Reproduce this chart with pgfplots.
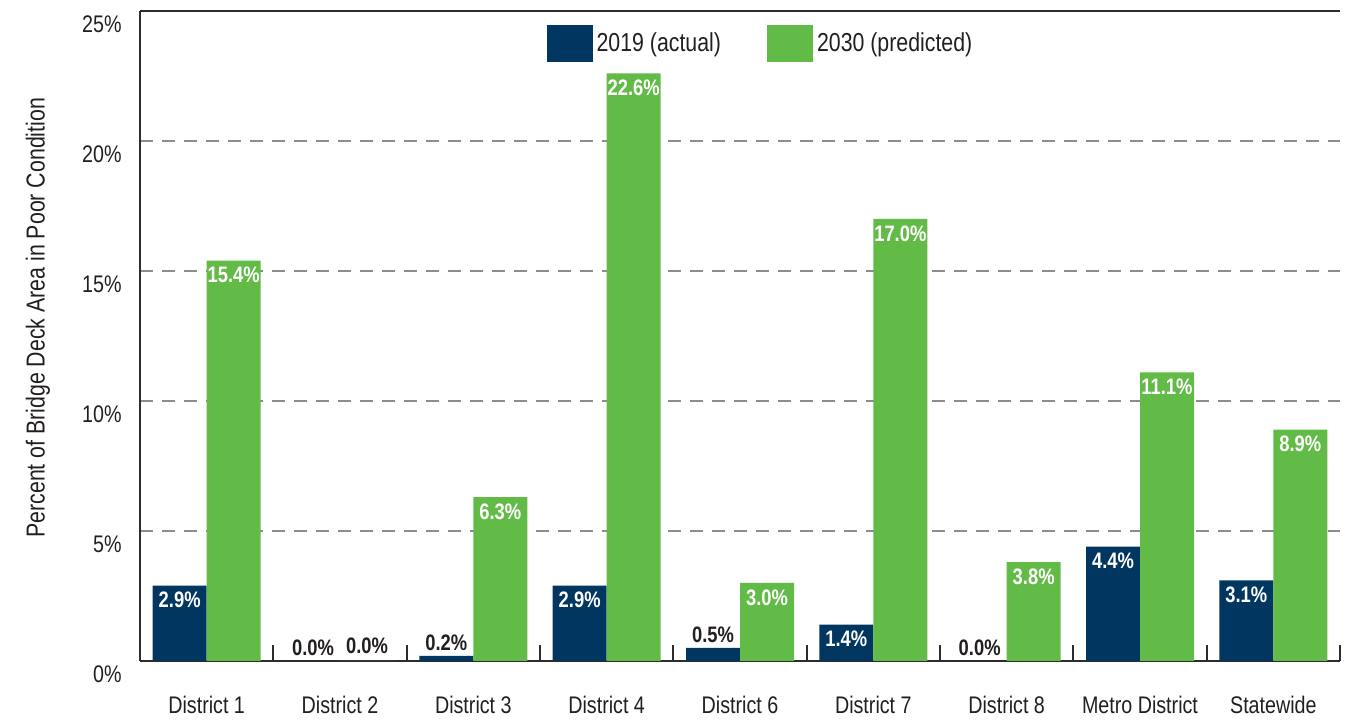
\documentclass[border=0pt]{standalone}
\usepackage{fontspec}
\setmainfont{Liberation Sans}[FakeStretch=0.82]
\usepackage{pgfplots}
\pgfplotsset{compat=1.18}
\definecolor{navyb}{RGB}{0,54,96}
\definecolor{greenb}{RGB}{98,187,70}
\definecolor{gridg}{RGB}{140,140,140}
\definecolor{axisg}{RGB}{45,45,45}
\definecolor{textc}{RGB}{35,31,32}
\begin{document}
\begin{tikzpicture}[text=textc]
\begin{axis}[
  width=600pt, height=325pt, scale only axis,
  xmin=-0.5, xmax=8.5, ymin=0, ymax=25,
  ybar, bar width=0.405,
  axis x line*=bottom, axis y line*=left,
  axis line style={draw=axisg, line width=1pt, -},
  xtick={0,1,2,3,4,5,6,7,8},
  xticklabels={District 1, District 2, District 3, District 4, District 6, District 7, District 8, Metro District, Statewide},
  minor xtick={0.5,1.5,2.5,3.5,4.5,5.5,6.5,7.5,8.5},
  major tick length=0pt, minor tick length=8pt,
  xtick align=inside,
  minor x tick style={draw=axisg, line width=1pt},
  ytick={0,5,10,15,20,25},
  yticklabels={0\%,5\%,10\%,15\%,20\%,25\%},
  ymajorgrids,
  grid style={draw=gridg, line width=1pt, dash pattern=on 6.5pt off 4.5pt},
  xticklabel style={font=\fontsize{12pt}{14pt}\selectfont, yshift=-14pt, text=textc},
  yticklabel style={font=\fontsize{12pt}{14pt}\selectfont, xshift=-5.7pt, yshift=-6.5pt, text=textc},
  ylabel={Percent of Bridge Deck Area in Poor Condition},
  every axis y label/.style={at={(rel axis cs:0,0.528)}, xshift=-51pt, rotate=90, anchor=center, font=\fontsize{13pt}{15pt}\selectfont, text=textc},
  /pgf/number format/assume math mode=true,
  legend style={at={(rel axis cs:0.3335,0.95)}, anchor=west, draw=none, fill=none,
    font=\fontsize{13pt}{15pt}\selectfont, text=textc,
    /tikz/every even column/.append style={column sep=21pt},
    /tikz/every odd column/.append style={column sep=0pt}},
  legend columns=2,
  legend image code/.code={\fill[#1] (0pt,-9.25pt) rectangle (23pt,9.25pt);},
  nodes near coords={\pgfmathprintnumber[fixed,fixed zerofill,precision=1]{\pgfplotspointmeta}\%},
]
% 2019 actual, labels inside
\addplot[fill=navyb, draw=none, bar shift=-0.2025,
  nodes near coords style={anchor=north, yshift=-3pt, inner sep=0pt, text=white, font=\bfseries\fontsize{11.2pt}{13pt}\selectfont}]
  coordinates {(0,2.9) (3,2.9) (5,1.4) (7,4.4) (8,3.1)};
\addlegendentry{2019 (actual)}
% 2019 actual, labels above
\addplot[fill=navyb, draw=none, bar shift=-0.2025, forget plot,
  nodes near coords style={anchor=south, yshift=2.5pt, inner sep=0pt, text=textc, font=\bfseries\fontsize{11.2pt}{13pt}\selectfont}]
  coordinates {(1,0.0) (2,0.2) (4,0.5) (6,0.0)};
% 2030 predicted, labels inside
\addplot[fill=greenb, draw=none, bar shift=0.2025,
  nodes near coords style={anchor=north, yshift=-3pt, inner sep=0pt, text=white, font=\bfseries\fontsize{11.2pt}{13pt}\selectfont}]
  coordinates {(0,15.4) (2,6.3) (3,22.6) (4,3.0) (5,17.0) (6,3.8) (7,11.1) (8,8.9)};
\addlegendentry{2030 (predicted)}
% 2030 predicted, labels above
\addplot[fill=greenb, draw=none, bar shift=0.2025, forget plot,
  nodes near coords style={anchor=south, yshift=3.5pt, inner sep=0pt, text=textc, font=\bfseries\fontsize{11.2pt}{13pt}\selectfont}]
  coordinates {(1,0.0)};
\draw[axisg, line width=1pt] (rel axis cs:0,1) -- (rel axis cs:1,1);
\coordinate (LL) at (rel axis cs:0,0);
\coordinate (UR) at (rel axis cs:1,1);
\end{axis}
\pgfresetboundingbox
\path[use as bounding box] ([xshift=-70pt,yshift=-29.5pt]LL) rectangle ([xshift=8pt,yshift=5.5pt]UR);
\end{tikzpicture}
\end{document}
